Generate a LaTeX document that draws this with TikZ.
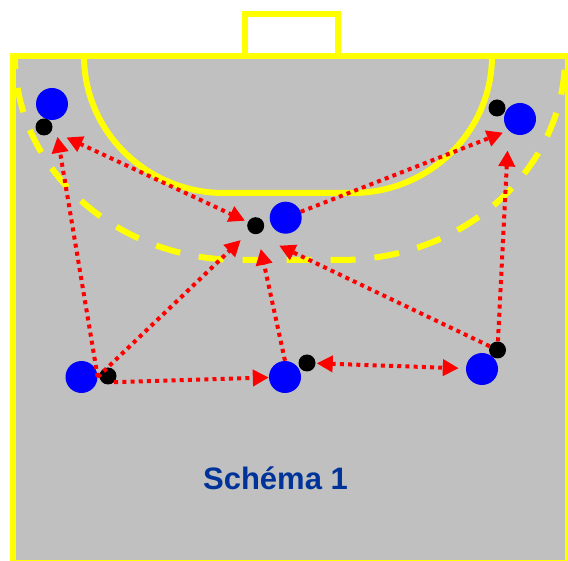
\documentclass[tikz,border=0pt]{standalone}
\usepackage{fontspec}
\setmainfont{Liberation Sans}
\usetikzlibrary{arrows.meta}

\definecolor{courtgray}{RGB}{192,192,192}
\definecolor{lineyellow}{RGB}{255,255,0}
\definecolor{titleblue}{RGB}{0,51,153}

\begin{document}
\begin{tikzpicture}[x=1pt, y=-1pt,
		court/.style={draw=lineyellow, line width=6pt},
		player/.style={circle, fill=blue, minimum size=32pt, inner sep=0pt},
		ball/.style={circle, fill=black, minimum size=17pt, inner sep=0pt},
		passline/.style={draw=red, line width=4pt, dash pattern=on 4pt off 4.2pt, >={Triangle[length=16pt, width=16pt]}}]
		\useasboundingbox[fill=white] (0,0) rectangle (568,561);

		% goal and court
		\draw[court] (244.5,56) rectangle (338,14);
		\draw[court, fill=courtgray] (13,56) rectangle (567.5,563);
		\draw[court] (84,56) arc[start angle=180, end angle=270, x radius=140pt, y radius=137pt]
			-- (352,193) arc[start angle=270, end angle=360, x radius=140pt, y radius=137pt];
		\draw[court, dash pattern=on 25pt off 19pt, dash phase=13pt] (15,57) arc[start angle=180, end angle=270, x radius=225pt, y radius=203pt]
			-- (340,260) arc[start angle=270, end angle=360, x radius=225pt, y radius=203pt];

		% players and balls
		\node[player] at (52,104) (pA) {};
		\node[ball] at (44,127) (bA) {};
		\node[player] at (285.7,217.7) (pB) {};
		\node[ball] at (255.7,225.7) (bB) {};
		\node[player] at (520,119) (pC) {};
		\node[ball] at (497,108) (bC) {};
		\node[player] at (81.5,377) (pD) {};
		\node[ball] at (108,376) (bD) {};
		\node[player] at (285,377) (pE) {};
		\node[ball] at (307,363) (bE) {};
		\node[player] at (482,369) (pF) {};
		\node[ball] at (497.5,350) (bF) {};

		% passes
		\draw[passline, ->, shorten >=17pt] (pD.east) -- (pA);
		\draw[passline, ->, shorten >=12pt] (pD.east) -- (bB);
		\draw[passline, ->] (bD.south east) -- (pE);
		\draw[passline, ->, shorten >=15pt] (pE.north) -- (bB);
		\draw[passline, ->, shorten >=26pt] (bF) -- (bB.south);
		\draw[passline, ->, shorten >=20pt] (bF) -- (pC.south west);
		\draw[passline, <->, shorten >=7pt, shorten <=1pt] (bE) -- (pF);
		\draw[passline, ->, shorten >=6pt] (pB) -- (pC.south west);
		\draw[passline, <->, shorten <=16pt, shorten >=3pt] (bA) -- (bB);

		\node[font=\bfseries\fontsize{31}{36}\selectfont, text=titleblue, anchor=base] at (275.5,489.3) (title) {Schéma 1};
	\end{tikzpicture}
\end{document}
